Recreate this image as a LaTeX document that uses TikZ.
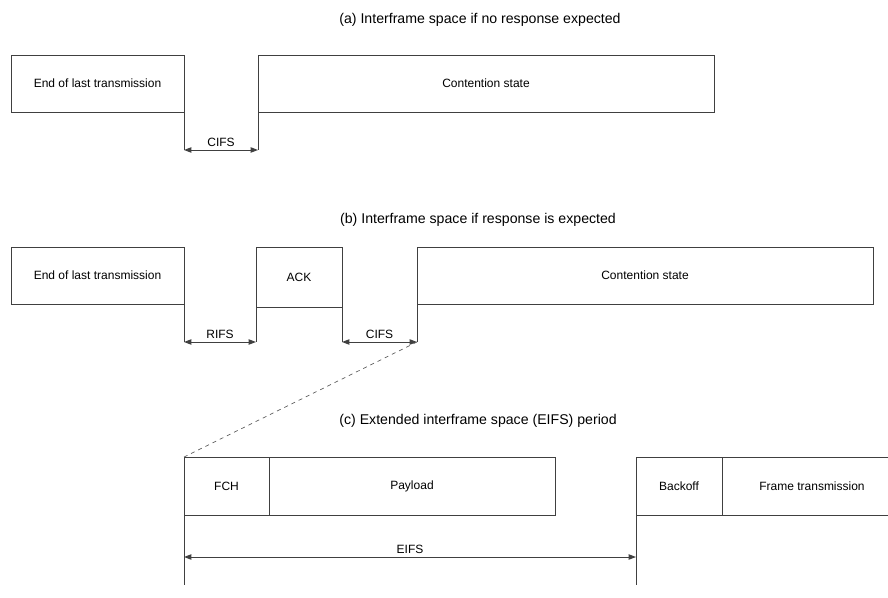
\documentclass[tikz,border=0pt]{standalone}
\usepackage{fontspec}
\setmainfont{Liberation Sans}
\usetikzlibrary{arrows.meta, positioning, calc}
\tikzset{
  blk/.style = {draw=black!75, fill=white, inner sep=0pt, outer sep=0pt, anchor=north west,
    minimum height=42.75pt, line width=0.7pt, font=\fontsize{9}{11}\selectfont},
  ttl/.style = {font=\fontsize{10.6}{12}\selectfont, inner sep=1pt},
  lbl/.style = {font=\fontsize{9}{11}\selectfont, above, inner sep=2pt},
  tick/.style = {draw=black!75, line width=0.7pt},
  dim/.style = {{Triangle[length=5.5pt,width=4pt]}-{Triangle[length=5.5pt,width=4pt]},
    draw=black!75, line width=0.7pt},
  gap/.style = {dashed, draw=black!65, line width=0.5pt}
}

\begin{document}
\begin{tikzpicture}[x=0.75pt, y=-0.75pt]
  \useasboundingbox (0,0) rectangle (888,598);

  % (a) no response
  \node [ttl] (ta) at (480,20) {(a) Interframe space if no response expected};
  \node [blk, minimum width=129.75pt] (ea) at (11,55) {End of last transmission};
  \node [blk, minimum width=342pt] (csa) at (258,55) {Contention state};
  \coordinate (ca1) at (184,150);
  \coordinate (ca2) at (258,150);
  \draw [tick] (ea.south east) -- (ca1);
  \draw [tick] (csa.south west) -- (ca2);
  \draw [dim] (ca1) -- node [lbl] (cifsa) {CIFS} (ca2);

  % (b) response expected
  \node [ttl] (tb) at (478,220) {(b) Interframe space if response is expected};
  \node [blk, minimum width=129.75pt] (eb) at (11,247) {End of last transmission};
  \node [blk, minimum width=64.5pt, minimum height=45pt] (ack) at (256,247) {ACK};
  \node [blk, minimum width=342pt] (csb) at (417,247) {Contention state};
  \coordinate (rb1) at (184,342);
  \coordinate (rb2) at (256,342);
  \coordinate (cb1) at (342,342);
  \coordinate (cb2) at (417,342);
  \draw [tick] (eb.south east) -- (rb1);
  \draw [tick] (ack.south west) -- (rb2);
  \draw [tick] (ack.south east) -- (cb1);
  \draw [tick] (csb.south west) -- (cb2);
  \draw [dim] (rb1) -- node [lbl] (rifs) {RIFS} (rb2);
  \draw [dim] (cb1) -- node [lbl] (cifsb) {CIFS} (cb2);

  % (c) EIFS
  \node [ttl] (tc) at (478,421) {(c) Extended interframe space (EIFS) period};
  \node [blk, minimum width=63.75pt, minimum height=43.5pt] (fch) at (184,457) {FCH};
  \node [blk, minimum width=214.5pt, minimum height=43.5pt, right=0pt of fch] (pay) {Payload};
  \node [blk, minimum width=64.5pt, minimum height=43.5pt] (bko) at (636,457) {Backoff};
  \node [blk, minimum width=135pt, minimum height=43.5pt, right=0pt of bko] (ftx) {Frame transmission};
  \draw [gap] (cb2) -- (fch.north west);
  \coordinate (ec1) at (184,557);
  \coordinate (ec2) at (636,557);
  \coordinate (eb1) at (184,585);
  \coordinate (eb2) at (636,585);
  \draw [tick] (fch.south west) -- (eb1);
  \draw [tick] (bko.south west) -- (eb2);
  \draw [dim] (ec1) -- node [lbl] (eifs) {EIFS} (ec2);
\end{tikzpicture}
\end{document}
